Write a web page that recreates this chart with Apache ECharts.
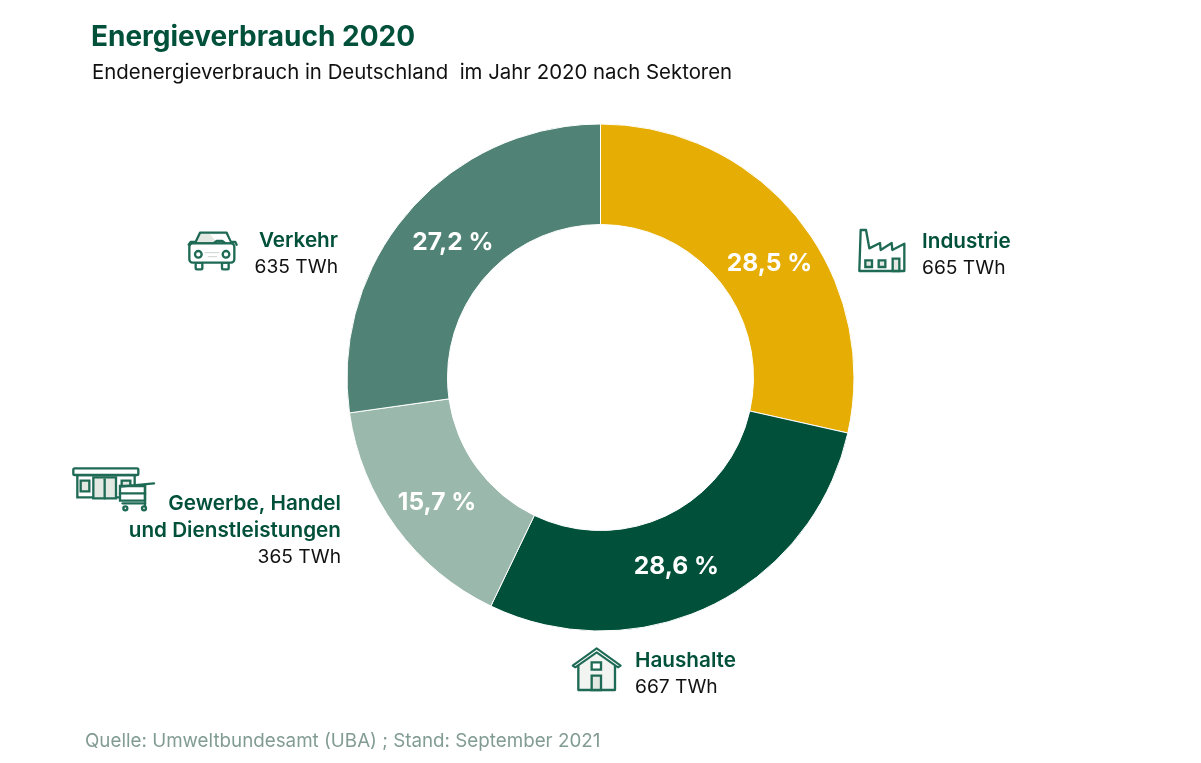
<!DOCTYPE html>
<html><head><meta charset="utf-8">
<style>html,body{margin:0;padding:0;background:#fff}#c{width:1201px;height:763px}</style>
<script src="https://cdn.jsdelivr.net/npm/echarts@6/dist/echarts.min.js"></script>
</head><body><div id="c"></div>
<script>
const sectors = ['Industrie','Haushalte','Gewerbe, Handel und Dienstleistungen','Verkehr'];
const twh = [665,667,365,635];
const shares = ['28,5 %','28,6 %','15,7 %','27,2 %'];
const colors = ['#E6AE04','#00503A','#9BB8AC','#508375'];
const title = 'Energieverbrauch 2020';
const subtitle = 'Endenergieverbrauch in Deutschland  im Jahr 2020 nach Sektoren';
const source = 'Quelle: Umweltbundesamt (UBA) ; Stand: September 2021';
const FONT = 'Inter';
const G = '#00503A', L = '#E3E8E2', I = '#1F6A55';

function txt(s,x,y,o){return {type:'text',silent:true,x,y,style:Object.assign({text:s,fontFamily:FONT,fontSize:19.2,fill:'#111',verticalAlign:'middle'},o||{})};}
const nameS = a=>({fontWeight:600,fontSize:20.7,fill:G,align:a});
const valS = a=>({align:a});
function pts(s){return s.trim().split(/\s+/).map(q=>q.split(',').map(Number));}
function poly(s,fill,lw,stroke){return {type:'polygon',silent:true,shape:{points:pts(s)},style:{fill:fill||'none',stroke:stroke||I,lineWidth:lw===undefined?7:lw,lineJoin:'round'}};}
function pl(s,lw,stroke){return {type:'polyline',silent:true,shape:{points:pts(s)},style:{fill:'none',stroke:stroke||I,lineWidth:lw||7,lineJoin:'round',lineCap:'round'}};}
function r(x,y,w,h,fill,rad){return {type:'rect',silent:true,shape:{x,y,width:w,height:h,r:rad||0},style:{fill:fill||'none',stroke:I,lineWidth:7}};}
function c(x,y,rad,fill){return {type:'circle',silent:true,shape:{cx:x,cy:y,r:rad},style:{fill:fill||'#fff',stroke:I,lineWidth:7}};}
function icon(x,y,children){return {type:'group',x,y,scaleX:1/3,scaleY:1/3,silent:true,children};}

const factory = icon(840,215,[
  poly('58,168 62,45 78,45 88,100 120,84 122,105 155,84 157,105 193,86 193,168','#fff'),
  r(76,136,20,20,L), r(116,136,20,20,L), r(158,131,20,37,L)
]);
const house = icon(560,635,[
  poly('110,52 58,88 58,163 163,163 163,88','#F1F4F1',0,'#fff'),
  pl('55,85 55,165 165,165 165,85',7),
  poly('38,92 110,40 182,92 174,97 110,52 46,97','#fff',6),
  r(95,82,28,22,'#fff'), r(95,122,28,43,L)
]);
const car = icon(60,220,[
  poly('405,70 420,38 500,38 514,70',L),
  poly('450,43 497,43 510,67 470,67','#fff',0,'#fff'),
  pl('460,70 470,63 487,63 497,70'),
  pl('386,74 392,66 405,66'), pl('514,66 526,66 530,74'),
  r(407,128,20,20,'#fff',4), r(486,128,20,20,'#fff',4),
  r(388,70,135,58,'#fff',10),
  c(415,103,10), c(498,103,10),
  pl('435,98 477,98',4,'#D5DCD6'), pl('445,110 470,110',4,'#D5DCD6')
]);
const shop = icon(60,220,[
  r(52,765,172,67,'#fff'),
  r(40,745,195,20,'#fff',4),
  r(100,772,68,63,L),
  pl('134,778 134,835'),
  r(62,782,26,32,L), r(185,782,26,18,L),
  r(180,798,75,44,'#fff'),
  pl('180,800 282,790'), pl('180,820 255,820'), pl('255,795 255,858'), pl('188,850 255,850'),
  c(196,865,6), c(252,865,6)
]);

const option = {
  animation:false,
  backgroundColor:'#fff',
  title:[
    {text:title,left:91,top:24,padding:0,textStyle:{fontFamily:FONT,fontSize:28,fontWeight:700,color:G}},
    {text:subtitle,left:92,top:62.5,padding:0,textStyle:{fontFamily:FONT,fontSize:20.4,fontWeight:400,color:'#111'}},
    {text:source,left:85,top:731.5,padding:0,textStyle:{fontFamily:FONT,fontSize:18.8,fontWeight:400,color:'#829C94'}}
  ],
  series:[{
    type:'pie',center:[600.5,377.5],radius:[153,253.5],startAngle:90,clockwise:true,
    itemStyle:{borderColor:'#fff',borderWidth:1},
    emphasis:{disabled:true},
    label:{show:true,position:'inside',formatter:q=>shares[q.dataIndex],fontFamily:FONT,fontSize:24.6,fontWeight:700,color:'#fff'},
    labelLine:{show:false},
    labelLayout:q=>{const o=[[8,15],[-14,3],[3,3],[8,0]][q.dataIndex];return {dx:o[0],dy:o[1]};},
    data:sectors.map((n,i)=>({name:n,value:twh[i],itemStyle:{color:colors[i]}}))
  }],
  graphic:[
    factory,house,car,shop,
    txt(sectors[0],922,242,nameS('left')), txt(twh[0]+' TWh',922,268,valS('left')),
    txt(sectors[1],635,661,nameS('left')), txt(twh[1]+' TWh',635,687,valS('left')),
    txt('Gewerbe, Handel',341,504,nameS('right')), txt('und Dienstleistungen',341,531,nameS('right')), txt(twh[2]+' TWh',341,557,valS('right')),
    txt(sectors[3],338,241,nameS('right')), txt(twh[3]+' TWh',338,267,valS('right'))
  ]
};
echarts.init(document.getElementById('c'),null,{renderer:'canvas'}).setOption(option);
</script></body></html>
